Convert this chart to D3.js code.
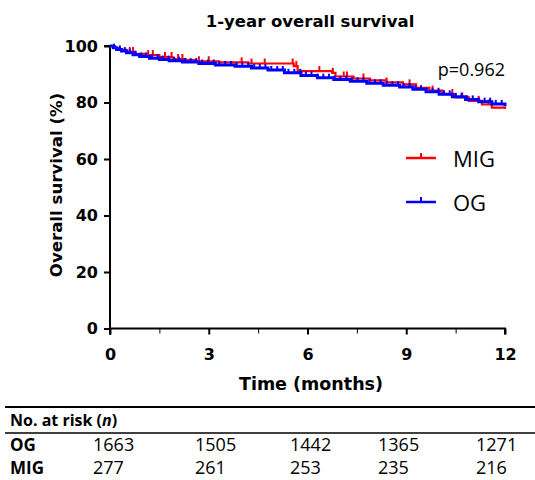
<!DOCTYPE html>
<html><head><meta charset="utf-8">
<script src="https://cdn.jsdelivr.net/npm/d3@7"></script>
<style>body{margin:0;background:#fff}svg{display:block}</style>
</head><body>
<svg id="c" width="535" height="480"></svg>
<script>
// ---- data ----
const xTicks = [0, 3, 6, 9, 12];
const xMinorTicks = [1.5, 4.5, 7.5, 10.5];
const yTicks = [0, 20, 40, 60, 80, 100];

const migTimes = [0, 0.15, 0.3, 0.5, 0.75, 1.1, 1.5, 1.9, 2.3, 2.6, 3.3, 4.2, 5.58, 5.7, 6.75, 6.85, 7.4, 7.9, 8.4, 8.9, 9.3, 9.7, 10.1, 10.5, 10.9, 11.3, 11.6, 12];
const migSurv  = [100, 99.3, 98.6, 97.9, 97.2, 96.8, 96.1, 95.4, 95.0, 94.6, 94.2, 93.8, 92.9, 91.1, 90.5, 89.2, 88.5, 87.8, 87.1, 86.4, 85.2, 84.2, 83.0, 81.8, 80.6, 79.3, 78.2, 77.7];
const migCensor = [0.6, 0.7, 1.16, 1.3, 1.67, 1.87, 2.07, 2.2, 2.7, 3.0, 4.0, 4.3, 4.7, 5.55, 5.66, 6.36, 6.77, 7.1, 7.2, 7.7, 8.4, 9.1, 9.8, 10.4, 10.7, 11.2, 11.5];

const ogTimes = [0, 0.1, 0.2, 0.35, 0.5, 0.7, 0.9, 1.2, 1.5, 1.8, 2.2, 2.7, 3.2, 3.8, 4.3, 4.8, 5.3, 5.8, 6.3, 6.8, 7.3, 7.8, 8.3, 8.8, 9.2, 9.6, 10.0, 10.4, 10.8, 11.2, 11.6, 12];
const ogSurv  = [100, 99.4, 98.8, 98.2, 97.6, 96.9, 96.3, 95.7, 95.2, 94.8, 94.3, 93.8, 93.3, 92.8, 92.2, 91.5, 90.5, 89.6, 88.8, 88.1, 87.5, 86.8, 86.1, 85.5, 84.7, 83.8, 82.9, 82.0, 81.1, 80.3, 79.5, 78.7];
const ogCensor = [0.12, 0.3, 0.45, 0.6, 0.78, 0.95, 1.1, 1.28, 1.45, 1.6, 1.78, 1.95, 2.1, 2.28, 2.45, 2.62, 2.8, 2.98, 3.15, 3.32, 3.5, 3.68, 3.85, 4.02, 4.2, 4.38, 4.55, 4.72, 4.9, 5.08, 5.25, 5.42, 5.6, 5.78, 5.95, 6.12, 6.3, 6.48, 6.65, 6.82, 7.0, 7.18, 7.35, 7.52, 7.7, 7.88, 8.05, 8.22, 8.4, 8.58, 8.75, 8.92, 9.1, 9.28, 9.45, 9.62, 9.8, 9.98, 10.15, 10.32, 10.5, 10.68, 10.85, 11.02, 11.2, 11.38, 11.55, 11.72, 11.9];

const riskGroups = ["OG", "MIG"];
const riskOG  = [1663, 1505, 1442, 1365, 1271];
const riskMIG = [277, 261, 253, 235, 216];

// ---- drawing ----
const svg = d3.select("#c");
const x = d3.scaleLinear().domain([0, 12]).range([110, 505]);
const y = d3.scaleLinear().domain([0, 100]).range([328.5, 46]);
const axisFont = "'DejaVu Sans', Verdana, sans-serif";
const plainFont = "'Open Sans', 'Noto Sans', sans-serif";

// title
svg.append("text").attr("x", 310).attr("y", 27).attr("text-anchor", "middle")
  .attr("font-family", axisFont).attr("font-weight", "bold").attr("font-size", 16.5)
  .text("1-year overall survival");

// axes
const gx = svg.append("g").attr("transform", `translate(0,${y(0)})`)
  .call(d3.axisBottom(x).tickValues(xTicks).tickSize(6).tickPadding(14).tickFormat(d3.format("d")));
svg.append("g").attr("transform", `translate(0,${y(0)})`)
  .call(d3.axisBottom(x).tickValues(xMinorTicks).tickSize(5).tickFormat(""))
  .call(g => g.select(".domain").remove());
const gy = svg.append("g").attr("transform", `translate(${x(0)},0)`)
  .call(d3.axisLeft(y).tickValues(yTicks).tickSize(6).tickPadding(6));
[gx, gy].forEach(g => {
  g.select(".domain").attr("stroke-width", 2);
  g.selectAll(".tick line").attr("stroke-width", 2);
  g.selectAll(".tick text").attr("font-family", axisFont).attr("font-weight", "bold")
   .attr("font-size", 16).attr("fill", "#000");
});
gx.select(".domain").attr("d", `M${x(0)},6V0H${x(12)}V6`);
gy.select(".domain").attr("d", `M-6,${y(100)}H0V${y(0)+6}`);

svg.append("text").attr("x", 311).attr("y", 390).attr("text-anchor", "middle")
  .attr("font-family", axisFont).attr("font-weight", "bold").attr("font-size", 17.5)
  .text("Time (months)");
svg.append("text").attr("transform", "translate(62,185) rotate(-90)").attr("text-anchor", "middle")
  .attr("font-family", axisFont).attr("font-weight", "bold").attr("font-size", 16.6)
  .text("Overall survival (%)");

// curves
function survAt(times, surv, t) {
  let v = surv[0];
  for (let i = 0; i < times.length; i++) if (times[i] <= t) v = surv[i];
  return v;
}
const line = d3.line().x(d => x(d[0])).y(d => y(d[1])).curve(d3.curveStepAfter);
function drawSeries(times, surv, censor, color, width, tickH) {
  const pts = times.map((t, i) => [t, surv[i]]);
  svg.append("path").datum(pts).attr("d", line).attr("fill", "none")
    .attr("stroke", color).attr("stroke-width", width);
  svg.append("g").selectAll("line").data(censor).join("line")
    .attr("x1", d => x(d)).attr("x2", d => x(d))
    .attr("y1", d => y(survAt(times, surv, d)))
    .attr("y2", d => y(survAt(times, surv, d)) - tickH)
    .attr("stroke", color).attr("stroke-width", 2);
}
drawSeries(migTimes, migSurv, migCensor, "#ff0000", 2.2, 5);
drawSeries(ogTimes, ogSurv, ogCensor, "#0000ff", 3, 4);

// p value
svg.append("text").attr("x", 505).attr("y", 76).attr("text-anchor", "end")
  .attr("font-family", plainFont).attr("font-size", 18).text("p=0.962");

// legend
const legend = [{name: "MIG", color: "#ff0000", y: 158}, {name: "OG", color: "#0000ff", y: 202}];
legend.forEach(l => {
  svg.append("line").attr("x1", 406).attr("x2", 436).attr("y1", l.y).attr("y2", l.y)
    .attr("stroke", l.color).attr("stroke-width", 2.5);
  svg.append("line").attr("x1", 421).attr("x2", 421).attr("y1", l.y).attr("y2", l.y - 5)
    .attr("stroke", l.color).attr("stroke-width", 2);
  svg.append("text").attr("x", 453).attr("y", l.y + 9).attr("font-family", plainFont)
    .attr("font-size", 22).text(l.name);
});

// risk table
svg.append("line").attr("x1", 5).attr("x2", 535).attr("y1", 407).attr("y2", 407)
  .attr("stroke", "#000").attr("stroke-width", 2);
svg.append("line").attr("x1", 5).attr("x2", 535).attr("y1", 433).attr("y2", 433)
  .attr("stroke", "#000").attr("stroke-width", 1.5);
const nt = svg.append("text").attr("x", 10).attr("y", 426).attr("font-family", plainFont)
  .attr("font-weight", "bold").attr("font-size", 16);
nt.append("tspan").text("No. at risk (");
nt.append("tspan").attr("font-style", "italic").text("n");
nt.append("tspan").text(")");
const colX = [93, 195, 290, 378, 476];
[riskOG, riskMIG].forEach((row, r) => {
  const yy = 451 + r * 23;
  svg.append("text").attr("x", 10).attr("y", yy).attr("font-family", plainFont)
    .attr("font-weight", "bold").attr("font-size", 17).text(riskGroups[r]);
  row.forEach((v, i) => {
    svg.append("text").attr("x", colX[i]).attr("y", yy).attr("font-family", plainFont)
      .attr("font-size", 18).text(v);
  });
});
</script>
</body></html>
